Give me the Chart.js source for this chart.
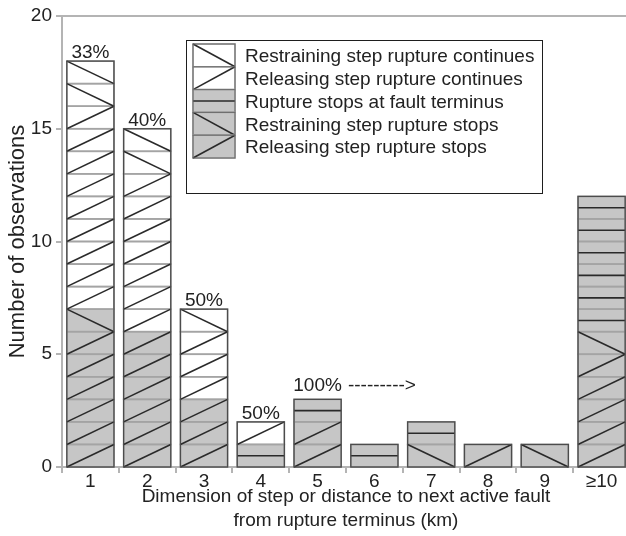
<!DOCTYPE html>
<html>
<head>
<meta charset="utf-8">
<script src="https://cdn.jsdelivr.net/npm/chart.js@4/dist/chart.umd.min.js"></script>
<style>
  html, body { margin: 0; padding: 0; background: #fff; overflow: hidden; }
  #wrap { position: relative; width: 630px; height: 536px; }
</style>
</head>
<body>
<div id="wrap"><canvas id="c"></canvas></div>
<script>
// Step dimension bins (km)
const categories = ['1', '2', '3', '4', '5', '6', '7', '8', '9', '\u226510'];

// Observation counts per bin, stacked bottom to top
const releasingStops       = [6, 6, 3, 0, 2, 0, 0, 1, 0, 5];
const restrainingStops     = [1, 0, 0, 0, 0, 0, 1, 0, 1, 1];
const faultTerminus        = [0, 0, 0, 1, 1, 1, 1, 0, 0, 6];
const releasingContinues   = [9, 7, 3, 1, 0, 0, 0, 0, 0, 0];
const restrainingContinues = [2, 2, 1, 0, 0, 0, 0, 0, 0, 0];

// Annotations above bars
const percentLabels = ['33%', '40%', '50%', '50%', '100%', '', '', '', '', ''];
const labelArrows   = ['', '', '', '', '--------->', '', '', '', '', ''];

const yTicks = [0, 5, 10, 15, 20];

const GRAY = '#c6c6c6';
const WHITE = '#ffffff';
const TEXT = '#222222';
const FONT = "'Liberation Sans', Arial, Helvetica, sans-serif";
const FS = 19;

Chart.defaults.font.family = FONT;
Chart.defaults.color = TEXT;

// Each observation is drawn as one cell carrying its mark
function cellEdges(ctx, x0, x1, yTop, yBot) {
  ctx.strokeStyle = '#a4a4a4';
  ctx.lineWidth = 1.6;
  ctx.strokeRect(x0, yTop, x1 - x0, yBot - yTop);
}
function cellMark(ctx, x0, x1, yTop, yBot, mark) {
  ctx.strokeStyle = '#2a2a2a';
  ctx.lineWidth = 1.6;
  ctx.beginPath();
  if (mark === '/') { ctx.moveTo(x0, yBot); ctx.lineTo(x1, yTop); }
  else if (mark === '\\') { ctx.moveTo(x0, yTop); ctx.lineTo(x1, yBot); }
  else { const ym = (yTop + yBot) / 2; ctx.moveTo(x0, ym); ctx.lineTo(x1, ym); }
  ctx.stroke();
}

const cellPlugin = {
  id: 'cells',
  afterDatasetsDraw(chart, args, opts) {
    const ctx = chart.ctx;
    const y = chart.scales.y;
    const sets = chart.data.datasets;
    ctx.save();
    for (let i = 0; i < categories.length; i++) {
      const cells = [];
      let base = 0, x0 = 0, x1 = 0;
      sets.forEach((ds, di) => {
        const el = chart.getDatasetMeta(di).data[i];
        x0 = el.x - el.width / 2;
        x1 = el.x + el.width / 2;
        for (let k = 0; k < ds.data[i]; k++) {
          cells.push({ top: y.getPixelForValue(base + k + 1), bot: y.getPixelForValue(base + k), mark: ds.mark });
        }
        base += ds.data[i];
      });
      cells.forEach(c => cellEdges(ctx, x0, x1, c.top, c.bot));
      cells.forEach(c => cellMark(ctx, x0, x1, c.top, c.bot, c.mark));
      const yTop = y.getPixelForValue(base), yBot = y.getPixelForValue(0);
      ctx.strokeStyle = '#4c4c4c';
      ctx.lineWidth = 1.3;
      ctx.strokeRect(x0, yTop, x1 - x0, yBot - yTop);

      if (percentLabels[i]) {
        const cx = (x0 + x1) / 2;
        const ty = yTop - opts.gap - (labelArrows[i] ? opts.arrowLift : 0);
        ctx.font = FS + 'px ' + FONT;
        ctx.fillStyle = TEXT;
        ctx.textBaseline = 'alphabetic';
        ctx.textAlign = 'center';
        ctx.fillText(percentLabels[i], cx, ty);
        if (labelArrows[i]) {
          const w = ctx.measureText(percentLabels[i]).width;
          ctx.textAlign = 'left';
          ctx.fillText(labelArrows[i], cx + w / 2 + 6, ty);
        }
      }
    }
    ctx.restore();
  }
};

// Top frame line and the patterned key
const framePlugin = {
  id: 'frame',
  afterDraw(chart, args, opts) {
    const ctx = chart.ctx;
    const a = chart.chartArea;
    ctx.save();
    ctx.strokeStyle = '#b4b4b4';
    ctx.lineWidth = 2;
    ctx.beginPath();
    ctx.moveTo(a.left, a.top);
    ctx.lineTo(a.right, a.top);
    ctx.stroke();

    const k = opts;
    const sets = chart.data.datasets.slice().reverse();
    ctx.fillStyle = '#fff';
    ctx.fillRect(k.left, k.top, k.width, k.height);
    ctx.strokeStyle = '#1e1e1e';
    ctx.lineWidth = 1;
    ctx.strokeRect(k.left + 0.5, k.top + 0.5, k.width, k.height);
    sets.forEach((ds, r) => {
      const t = k.top + k.rowTop + r * k.rowHeight;
      const b = t + k.rowHeight;
      const sx0 = k.left + k.swatchX, sx1 = sx0 + k.swatchW;
      ctx.fillStyle = ds.backgroundColor;
      ctx.fillRect(sx0, t, sx1 - sx0, b - t);
      cellEdges(ctx, sx0, sx1, t, b);
      cellMark(ctx, sx0, sx1, t, b, ds.mark);
      ctx.strokeStyle = '#6a6a6a';
      ctx.lineWidth = 1;
      ctx.strokeRect(sx0, t, sx1 - sx0, b - t);
      ctx.font = FS + 'px ' + FONT;
      ctx.fillStyle = TEXT;
      ctx.textAlign = 'left';
      ctx.textBaseline = 'middle';
      ctx.fillText(ds.label, k.left + k.textX, (t + b) / 2 + 1.5);
    });
    ctx.restore();
  }
};

const series = [
  { label: 'Releasing step rupture stops',     data: releasingStops,       fill: GRAY,  mark: '/' },
  { label: 'Restraining step rupture stops',   data: restrainingStops,     fill: GRAY,  mark: '\\' },
  { label: 'Rupture stops at fault terminus',  data: faultTerminus,        fill: GRAY,  mark: '-' },
  { label: 'Releasing step rupture continues', data: releasingContinues,   fill: WHITE, mark: '/' },
  { label: 'Restraining step rupture continues', data: restrainingContinues, fill: WHITE, mark: '\\' }
];

new Chart(document.getElementById('c'), {
  type: 'bar',
  data: {
    labels: categories,
    datasets: series.map(s => ({
      label: s.label,
      data: s.data,
      mark: s.mark,
      backgroundColor: s.fill,
      borderWidth: 0,
      barPercentage: 0.83,
      categoryPercentage: 1.0
    }))
  },
  options: {
    responsive: true,
    maintainAspectRatio: false,
    animation: false,
    layout: { padding: { top: 16, left: 0, right: 0, bottom: 0 } },
    plugins: {
      legend: { display: false },
      tooltip: { enabled: false },
      cells: { gap: 3, arrowLift: 5 },
      frame: { left: 186, top: 40, width: 356, height: 153, rowTop: 4, rowHeight: 22.8, swatchX: 7, swatchW: 42, textX: 59 }
    },
    scales: {
      x: {
        stacked: true,
        grid: { offset: true, drawOnChartArea: false, tickLength: 6, color: '#b4b4b4', lineWidth: 2 },
        border: { color: '#b4b4b4', width: 2 },
        ticks: { color: TEXT, font: { size: FS, lineHeight: 1.0 }, padding: -1, maxRotation: 0 },
        title: {
          display: true,
          text: ['Dimension of step or distance to next active fault', 'from rupture terminus (km)'],
          color: TEXT,
          font: { size: FS, lineHeight: 1.26 },
          padding: { top: 0, bottom: 3 }
        },
        afterFit(s) { s.height = 69; }
      },
      y: {
        stacked: true,
        min: 0,
        max: 20,
        afterBuildTicks(s) { s.ticks = yTicks.map(v => ({ value: v })); },
        grid: { drawOnChartArea: false, tickLength: 6, color: '#b4b4b4', lineWidth: 2 },
        border: { color: '#b4b4b4', width: 2 },
        ticks: { color: TEXT, font: { size: FS }, padding: 4 },
        title: {
          display: true,
          text: 'Number of observations',
          color: TEXT,
          font: { size: 22, lineHeight: 1.2 },
          padding: { top: 5, bottom: 0 }
        },
        afterFit(s) { s.width = 62; }
      }
    }
  },
  plugins: [cellPlugin, framePlugin]
});
</script>
</body>
</html>
